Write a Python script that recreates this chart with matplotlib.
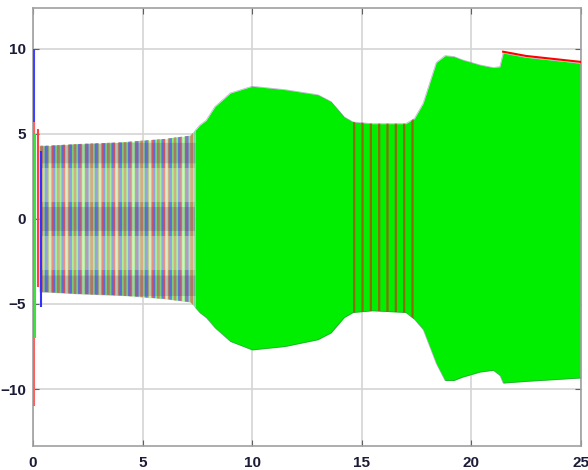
import numpy as np
import matplotlib
matplotlib.use('Agg')
import matplotlib.pyplot as plt

# envelope of the oscillating signals
t_env = np.array([0.3, 0.6, 2.0, 4.0, 6.0, 7.2, 7.4, 7.6, 7.9, 8.3, 9.0, 10.0, 11.5,
                  13.0, 13.6, 14.2, 14.6, 15.5, 17.0, 17.4, 17.8, 18.4, 18.8, 19.2,
                  19.6, 20.4, 21.0, 21.3, 21.45, 22.5, 25.0])
upper = np.array([4.3, 4.3, 4.4, 4.5, 4.7, 4.9, 5.2, 5.5, 5.8, 6.6, 7.4, 7.8, 7.6,
                  7.3, 6.9, 6.0, 5.7, 5.6, 5.6, 5.9, 6.8, 9.2, 9.6, 9.55,
                  9.35, 9.05, 8.9, 8.95, 9.75, 9.5, 9.15])
lower = np.array([-4.3, -4.3, -4.4, -4.5, -4.7, -4.9, -5.2, -5.5, -5.8, -6.4, -7.2, -7.7, -7.5,
                  -7.1, -6.7, -5.8, -5.5, -5.4, -5.5, -5.9, -6.5, -8.5, -9.5, -9.5,
                  -9.3, -9.0, -8.9, -9.2, -9.65, -9.55, -9.35])

# start-up transients
spike_t = [0.04, 0.07, 0.10, 0.25, 0.35]
spike_lo = [0.0, -11.0, -7.0, -4.0, -5.2]
spike_hi = [10.0, 5.7, 5.0, 5.3, 4.0]
spike_col = ['#4040ff', '#ff6060', '#40e040', '#ff4040', '#3030ff']

xticks = [0, 5, 10, 15, 20, 25]
yticks = [-10, -5, 0, 5, 10]

plt.rcParams['hatch.linewidth'] = 1.6
fig = plt.figure(figsize=(5.88, 4.7), dpi=100)
ax = fig.add_axes([0.056, 0.051, 0.932, 0.932])

left = t_env <= 7.4
right = t_env >= 7.4
mid = (t_env >= 14.6) & (t_env <= 17.4)

# left region: multicolour signals, drawn as hatched stripes
ax.fill_between(t_env[left], lower[left], upper[left], color='#d0ecc0', lw=0, zorder=2)
for h, c in [('||||', '#80f080'), ('|||', '#e86060'), ('||', '#6080e8'), ('|', '#c09060')]:
    ax.fill_between(t_env[left], lower[left], upper[left], facecolor='none',
                    edgecolor=c, hatch=h, lw=0, zorder=3)
for lo, hi in [(3.3, 4.5), (-0.7, 0.7), (-4.5, -3.3)]:
    ax.fill_between(t_env[left], np.maximum(lower[left], lo), np.minimum(upper[left], hi),
                    color='#502070', alpha=0.2, lw=0, zorder=4)
for lo, hi in [(1.0, 3.0), (-3.0, -1.0)]:
    ax.fill_between(t_env[left], np.maximum(lower[left], lo), np.minimum(upper[left], hi),
                    color='#f0f0c8', alpha=0.35, lw=0, zorder=4)

# right region: dense green
ax.fill_between(t_env[right], lower[right], upper[right], color='#00ee00', lw=0, zorder=2)
ax.fill_between(t_env[mid], lower[mid], upper[mid], facecolor='none',
                edgecolor='#b84010', hatch='||', lw=0, alpha=0.75, zorder=3)
ax.plot(t_env[right], upper[right], color='#7030a0', lw=0.5, alpha=0.4, zorder=4)
ax.plot(t_env[right], lower[right], color='#7030a0', lw=0.5, alpha=0.4, zorder=4)
r = t_env >= 21.45
ax.plot(t_env[r], upper[r] + 0.08, color='#ff0000', lw=1.5, zorder=5)

ax.vlines(spike_t, spike_lo, spike_hi, colors=spike_col, lw=1.5, zorder=5)

ax.set_xlim(0, 25)
ax.set_ylim(-13.35, 12.4)
ax.set_xticks(xticks)
ax.set_yticks(yticks)
ax.grid(True, color='#d4d4d4', lw=1.2)
ax.set_axisbelow(True)
for s in ax.spines.values():
    s.set_color('#a0a0a0')
    s.set_linewidth(1.2)
ax.tick_params(direction='in', length=4, color='#606060', top=True, right=True,
               labelcolor='#1c1c38', labelsize=11, pad=7)
ax.tick_params(axis='y', pad=5)
for lab in ax.get_xticklabels() + ax.get_yticklabels():
    lab.set_fontweight('bold')
    lab.set_family('Liberation Sans')

fig.savefig('out.png', dpi=100)
